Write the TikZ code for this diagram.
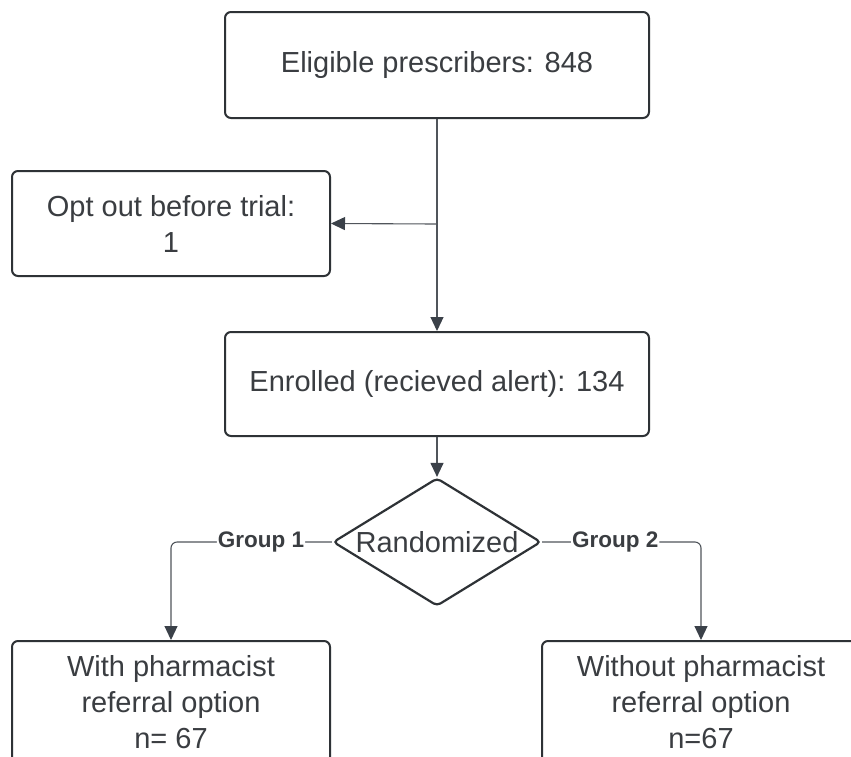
\documentclass[tikz,border=0pt]{standalone}
\usepackage{fontspec}
\setmainfont{Liberation Sans}
\usetikzlibrary{shapes.geometric,arrows.meta}
\definecolor{boxline}{HTML}{2E3236}
\definecolor{txt}{HTML}{3A3D41}
\definecolor{conn}{HTML}{50555B}
\definecolor{tip}{HTML}{3B4149}
\tikzset{
  boxnode/.style={draw=boxline, line width=2pt, rounded corners=6pt, fill=white,
    text=txt, align=center, inner sep=0pt,
    font=\fontsize{29}{36}\selectfont},
  conline/.style={draw=conn, line width=1.1pt,
    -{Triangle[length=14pt,width=13pt,color=tip]}},
  grouplbl/.style={fill=white, text=txt, inner sep=1pt,
    font=\bfseries\fontsize{22.5}{24}\selectfont},
}
\begin{document}
\begin{tikzpicture}[x=1pt,y=-1pt]
\clip (0,0) rectangle (851,756);
\useasboundingbox (0,0) rectangle (851,756);
\fill[white] (0,0) rectangle (851,756);
\node[boxnode, minimum width=424pt, minimum height=106pt] (top) at (437,65) {Eligible prescribers: 848};
\node[boxnode, minimum width=318pt, minimum height=105pt] (opt) at (171,223.5) {Opt out before trial:\\1};
\node[boxnode, minimum width=424pt, minimum height=104pt] (enr) at (437,384) {Enrolled (recieved alert): 134};
\node[draw=boxline, line width=2.2pt, shape=diamond, rounded corners=4pt,
  minimum width=208pt, minimum height=128pt, inner sep=0pt] (rnd) at (437,542) {};
\node[text=txt, font=\fontsize{29}{36}\selectfont, inner sep=0pt] (rndtxt) at (rnd.center) {Randomized};
\node[boxnode, minimum width=318pt, minimum height=122pt] (left) at (171,702) {With pharmacist\\referral option\\n= 67};
\node[boxnode, minimum width=318pt, minimum height=122pt] (right) at (701,702) {Without pharmacist\\referral option\\n=67};
\coordinate (br) at (437,224);
\draw[conline] (top.south) -- (enr.north);
\draw[conline] (br) -- (opt.east);
\draw[conline] (enr.south) -- (rnd.north);
\draw[conline, rounded corners=6pt] (rnd.west) -| node[grouplbl, pos=0.22] (g1) {Group 1} (left.north);
\draw[conline, rounded corners=6pt] (rnd.east) -| node[grouplbl, pos=0.23] (g2) {Group 2} (right.north);
\end{tikzpicture}
\end{document}
